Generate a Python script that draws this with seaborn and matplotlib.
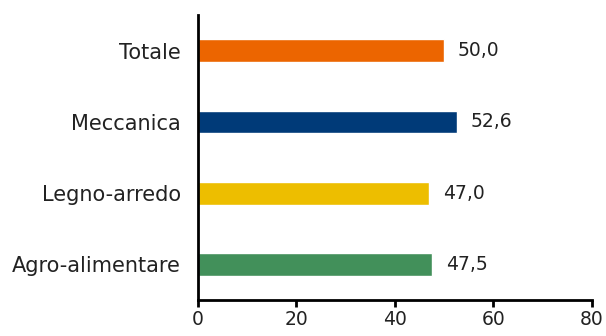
import matplotlib
matplotlib.use("Agg")
import matplotlib.pyplot as plt
import seaborn as sns
import pandas as pd

categories = ["Totale", "Meccanica", "Legno-arredo", "Agro-alimentare"]
values = [50.0, 52.6, 47.0, 47.5]
colors = ["#EC6500", "#003A78", "#EDBE00", "#42905A"]
x_ticks = [0, 20, 40, 60, 80]

sns.set_theme(style="ticks")
plt.rcParams["font.family"] = ["DejaVu Sans"]

df = pd.DataFrame({"settore": categories, "valore": values})

fig = plt.figure(figsize=(6.06, 3.36), dpi=100)
ax = fig.add_axes([0.326, 0.107, 0.651, 0.848])

sns.barplot(data=df, x="valore", y="settore", hue="settore",
            palette=colors, order=categories, hue_order=categories,
            orient="h", width=0.32, legend=False, ax=ax, saturation=1)

ax.set_xlim(0, 80)
ax.set_ylim(3.5, -0.5)
ax.set_xticks(x_ticks)
ax.set_xticklabels([str(t) for t in x_ticks])
ax.set_xlabel("")
ax.set_ylabel("")

for s in ["top", "right"]:
    ax.spines[s].set_visible(False)
for s in ["left", "bottom"]:
    ax.spines[s].set_color("black")
    ax.spines[s].set_linewidth(2)

ax.tick_params(axis="x", which="major", direction="out", length=5, width=2,
               color="black", labelsize=13.5, labelcolor="#222222", pad=2,
               bottom=True)
ax.tick_params(axis="y", length=0, labelsize=15, labelcolor="#222222", pad=12)

for i, v in enumerate(values):
    ax.text(v + 2.8, i, f"{v:.1f}".replace(".", ","), va="center", ha="left",
            fontsize=13.5, color="#222222")

fig.savefig("out.png", dpi=100)
